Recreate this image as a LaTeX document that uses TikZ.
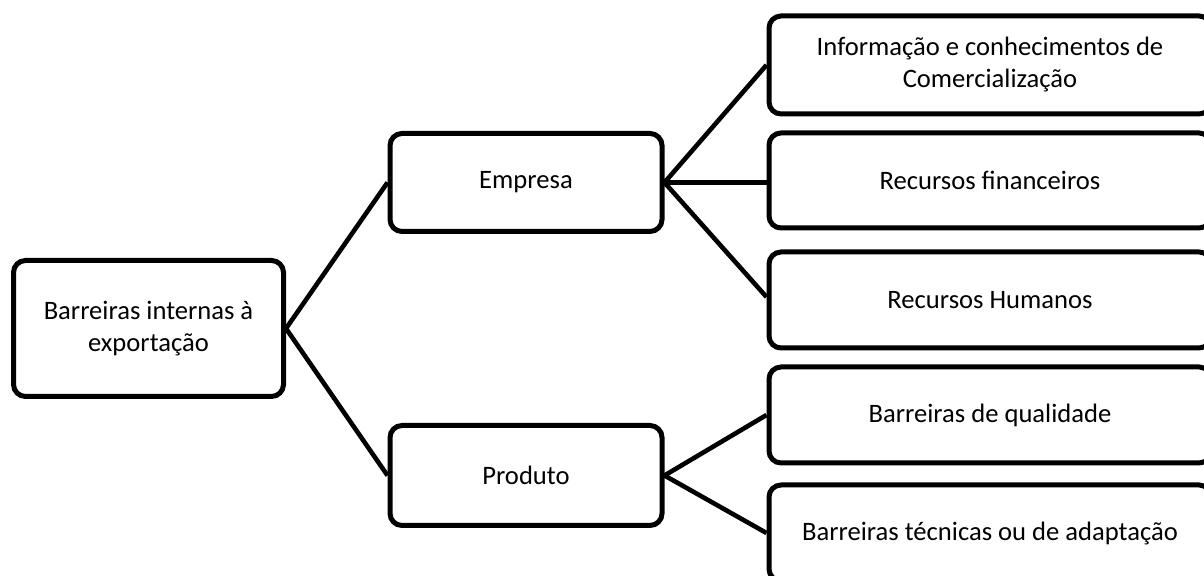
\documentclass[tikz,border=0pt]{standalone}
\usepackage{fontspec}
\setmainfont{Carlito}
\begin{document}
\begin{tikzpicture}[x=0.5pt,y=-0.5pt,
  box/.style={draw=black, line width=2.5pt, rounded corners=6pt, fill=white,
    align=center, font=\fontsize{13.3pt}{16pt}\selectfont, inner sep=0pt},
  link/.style={line width=2.3pt}]
\useasboundingbox (0,0) rectangle (1204,576);
\clip (0,0) rectangle (1204,576);
\node[box, minimum width=135pt, minimum height=68pt] (root) at (148.5,328.5) {Barreiras internas à\\exportação};
\node[box, minimum width=136pt, minimum height=49pt] (emp) at (526,182.5) {Empresa};
\node[box, minimum width=136pt, minimum height=50pt] (prod) at (526,475.5) {Produto};
\node[box, minimum width=221pt, minimum height=49pt] (info) at (990,65) {Informação e conhecimentos de\\Comercialização};
\node[box, minimum width=221pt, minimum height=47.5pt] (fin) at (990,180.5) {Recursos financeiros};
\node[box, minimum width=221pt, minimum height=48pt] (hum) at (990,300) {Recursos Humanos};
\node[box, minimum width=221pt, minimum height=48pt] (qual) at (990,415) {Barreiras de qualidade};
\node[box, minimum width=221pt, minimum height=48pt] (tec) at (990,533) {Barreiras técnicas ou de adaptação};
\draw[link] (root.east) -- (emp.west);
\draw[link] (root.east) -- (prod.west);
\draw[link] (emp.east) -- (info.west);
\draw[link] (emp.east) -- (emp.east -| fin.west);
\draw[link] (emp.east) -- ([yshift=1.5pt]hum.west);
\draw[link] (prod.east) -- (qual.west);
\draw[link] (prod.east) -- (tec.west);
\end{tikzpicture}
\end{document}
